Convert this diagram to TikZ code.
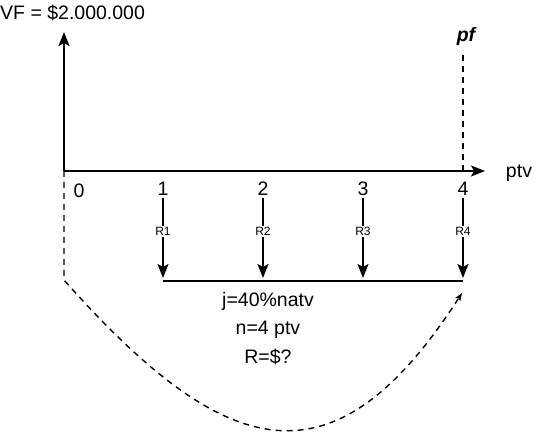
\documentclass[tikz,border=0pt]{standalone}
\usepackage{fontspec}
\setmainfont{Liberation Sans}
\usetikzlibrary{arrows.meta}
\begin{document}
\begin{tikzpicture}[x=1pt,y=-1pt,
  lbl/.style={font=\fontsize{19.5}{22}\selectfont, inner sep=0pt},
  rlbl/.style={font=\fontsize{12}{14}\selectfont, fill=white, inner sep=1pt},
  axis/.style={line width=1.5pt, -{Stealth[length=14pt,width=11pt,inset=3pt]}},
  pay/.style={line width=1.5pt, -{Stealth[length=14pt,width=11pt,inset=3pt]}},
  dsh/.style={line width=1.4pt, dash pattern=on 6pt off 5pt}]
\useasboundingbox (0,0) rectangle (558,433);
% coordinates
\coordinate (O) at (64,171);
\coordinate (Top) at (64,32);
\coordinate (End) at (485,171);
\coordinate (P4) at (463,171);
\coordinate (P4top) at (463,50);
\coordinate (C0) at (64,280);
\coordinate (Cend) at (462,293);
\foreach \i/\x in {1/163,2/263,3/363,4/463}{
  \coordinate (s\i) at (\x,198);
  \coordinate (e\i) at (\x,278);
}
\coordinate (L1) at (163,281);
\coordinate (L2) at (463,281);
% labels
\node[lbl, anchor=west] (vf) at (0,13) {VF = \$2.000.000};
\node[lbl, font=\fontsize{19.5}{22}\selectfont\bfseries\itshape] (pf) at (466,36) {pf};
\node[lbl] (ptv) at (519,173) {ptv};
\node[lbl] (t0) at (79,191) {0};
\node[lbl] (t1) at (163,189) {1};
\node[lbl] (t2) at (263,189) {2};
\node[lbl] (t3) at (363,189) {3};
\node[lbl] (t4) at (463,189) {4};
\node[lbl] (j) at (268,301) {j=40\%natv};
\node[lbl] (n) at (268,330) {n=4 ptv};
\node[lbl] (R) at (268,357) {R=\$?};
% axes
\draw[axis] (O) -- (Top);
\draw[axis] (O) -- (End);
\draw[dsh] (P4) -- (P4top);
% payments
\foreach \i in {1,2,3,4}{
  \draw[pay] (s\i) -- (e\i) node[rlbl, pos=0.42] (r\i) {R\i};
}
\draw[line width=1.5pt] (L1) -- (L2);
% dashed curve
\draw[dsh, -{Stealth[length=8pt,width=6pt,inset=2pt]}] (O) -- (C0)
  .. controls (228,465) and (335,490) .. (Cend);
\end{tikzpicture}
\end{document}
